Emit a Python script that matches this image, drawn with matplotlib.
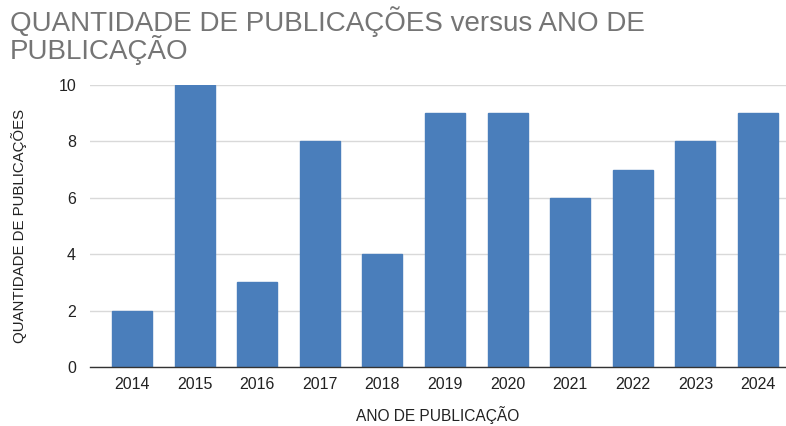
import matplotlib
matplotlib.use('Agg')
import matplotlib.pyplot as plt

plt.rcParams['font.family'] = ['Liberation Sans', 'DejaVu Sans']

years = ["2014", "2015", "2016", "2017", "2018", "2019", "2020", "2021", "2022", "2023", "2024"]
counts = [2, 10, 3, 8, 4, 9, 9, 6, 7, 8, 9]

fig = plt.figure(figsize=(7.86, 4.26), dpi=100)
ax = fig.add_axes([0.1145, 0.1385, 0.885, 0.662])

x = list(range(len(years)))
ax.bar(x, counts, width=0.64, color="#4a7ebb", edgecolor="#4a7ebb", zorder=3)

ax.set_xlim(-0.67, 10.44)
ax.set_ylim(0, 10)
ax.set_yticks([0, 2, 4, 6, 8, 10])
ax.set_xticks(x)
ax.set_xticklabels(years)
ax.tick_params(axis="both", length=0, labelsize=11.5, colors="#222222")
ax.tick_params(axis="y", pad=10)
ax.tick_params(axis="x", pad=7)

ax.grid(axis="y", color="#d9d9d9", linewidth=1, zorder=0)
for s in ["top", "right", "left"]:
    ax.spines[s].set_visible(False)
ax.spines["bottom"].set_color("#333333")
ax.spines["bottom"].set_linewidth(1)
ax.spines["bottom"].set_zorder(4)

ax.set_ylabel("QUANTIDADE DE PUBLICAÇÕES", fontsize=10.8, color="#222222")
ax.yaxis.set_label_coords(-0.091, 0.5)
ax.set_xlabel("ANO DE PUBLICAÇÃO", fontsize=11.2, color="#222222", va="center")
ax.xaxis.set_label_coords(0.5, -0.17)

fig.text(0.013, 0.985, "QUANTIDADE DE PUBLICAÇÕES versus ANO DE\nPUBLICAÇÃO",
         fontsize=20, color="#757575", va="top", ha="left", linespacing=0.9)

plt.savefig("out.png", dpi=100, facecolor="white")
plt.close()
